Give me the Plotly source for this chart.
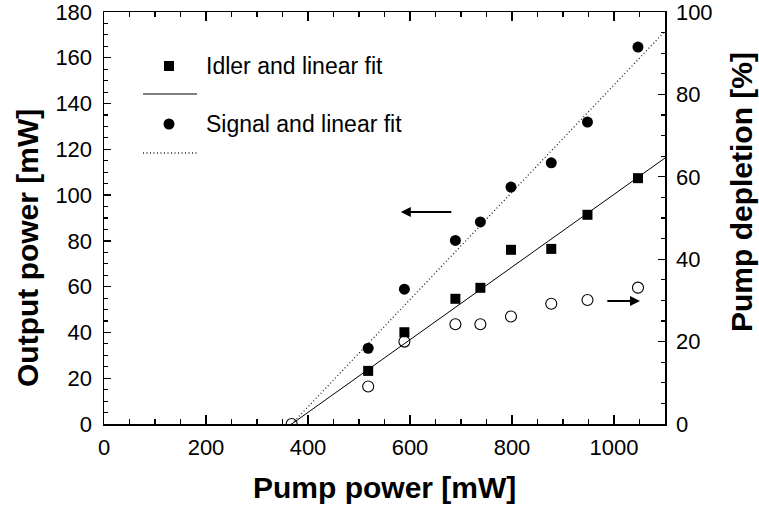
import plotly.graph_objects as go

# ---------------- data ----------------
pump = [518, 589, 689, 738, 798, 877, 948, 1047]
idler = [23.2, 40.1, 54.7, 59.5, 76.1, 76.5, 91.4, 107.4]
signal = [33.1, 58.9, 80.2, 88.3, 103.5, 114.1, 131.9, 164.7]
depl_pump = [368, 518, 589, 689, 738, 798, 877, 948, 1047]
depletion = [0, 9.1, 20.0, 24.2, 24.2, 26.1, 29.2, 30.1, 33.1]
fit_x = [368, 1100]
idler_fit = [0, 116.2]
signal_fit = [0, 171.6]

x_ticks = [0, 200, 400, 600, 800, 1000]
y_ticks = [0, 20, 40, 60, 80, 100, 120, 140, 160, 180]
y2_ticks = [0, 20, 40, 60, 80, 100]

FONT = "Liberation Sans, Arial, Helvetica, sans-serif"
W, H = 759, 510
L, R, T, B = 104, 665, 12, 424  # plot area in pixels
DOTS = "1px,2.5px"


def px(xp, yp):
    return (xp - L) / (R - L), (B - yp) / (B - T)


fig = go.Figure()
fig.add_trace(go.Scatter(x=fit_x, y=idler_fit, mode="lines",
                         line=dict(color="black", width=1), showlegend=False))
fig.add_trace(go.Scatter(x=fit_x, y=signal_fit, mode="lines",
                         line=dict(color="#222222", width=1.3, dash=DOTS), showlegend=False))
fig.add_trace(go.Scatter(x=pump, y=idler, mode="markers",
                         marker=dict(symbol="square", size=10, color="black"), showlegend=False))
fig.add_trace(go.Scatter(x=pump, y=signal, mode="markers",
                         marker=dict(symbol="circle", size=11, color="black"), showlegend=False))
fig.add_trace(go.Scatter(x=depl_pump, y=depletion, mode="markers", yaxis="y2",
                         marker=dict(symbol="circle-open", size=11, color="black",
                                     line=dict(width=1.1)), showlegend=False))

axis_common = dict(showgrid=False, zeroline=False, showline=True, linecolor="black",
                   linewidth=1.5, ticks="inside", tickcolor="black", tickwidth=1.3,
                   automargin=False, ticklabeloverflow="allow",
                   tickfont=dict(family=FONT, size=22, color="black"))

fig.update_layout(
    width=W, height=H,
    margin=dict(l=L, r=W - R, t=T, b=H - B, pad=0, autoexpand=False),
    paper_bgcolor="white", plot_bgcolor="white",
    font=dict(family=FONT, color="black"),
    xaxis=dict(range=[0, 1100], tickvals=x_ticks, ticklen=9, mirror="ticks",
               ticklabelstandoff=3,
               minor=dict(ticks="inside", dtick=50, ticklen=5, tickcolor="black", tickwidth=1.2),
               **axis_common),
    yaxis=dict(range=[0, 180], tickvals=y_ticks, ticklen=7, ticklabelstandoff=6,
               minor=dict(ticks="inside", dtick=5, ticklen=4, tickcolor="black", tickwidth=1.2),
               **axis_common),
    yaxis2=dict(range=[0, 100], tickvals=y2_ticks, ticklen=7, overlaying="y", side="right",
                ticklabelstandoff=5,
                minor=dict(ticks="inside", dtick=5, ticklen=4, tickcolor="black", tickwidth=1.2),
                **axis_common),
)

# axis titles
title_font = dict(family=FONT, size=30, color="black")
for text, (xx, yy), ang in [("Pump power [mW]", (384, 487), 0),
                            ("Output power [mW]", (27, 248), -90),
                            ("Pump depletion [%]", (741, 192), -90)]:
    xp, yp = px(xx, yy)
    fig.add_annotation(text="<b>%s</b>" % text, x=xp, y=yp, xref="paper", yref="paper",
                       showarrow=False, textangle=ang, font=title_font,
                       xanchor="center", yanchor="middle")

# legend (manual)
leg_font = dict(family=FONT, size=23, color="black")
for text, yy in [("Idler and linear fit", 66), ("Signal and linear fit", 124)]:
    xp, yp = px(204, yy)
    fig.add_annotation(text=text, x=xp, y=yp, xref="paper", yref="paper", showarrow=False,
                       xanchor="left", yanchor="middle", font=leg_font)
x0, y0 = px(164, 61); x1, y1 = px(174, 71)
fig.add_shape(type="rect", x0=x0, x1=x1, y0=y0, y1=y1, xref="paper", yref="paper",
              fillcolor="black", line=dict(width=0))
x0, y0 = px(163.5, 118.5); x1, y1 = px(174.5, 129.5)
fig.add_shape(type="circle", x0=x0, x1=x1, y0=y0, y1=y1, xref="paper", yref="paper",
              fillcolor="black", line=dict(width=0))
x0, y0 = px(143, 94); x1, _ = px(197, 94)
fig.add_shape(type="line", x0=x0, x1=x1, y0=y0, y1=y0, xref="paper", yref="paper",
              line=dict(color="black", width=1))
x0, y0 = px(143, 153); x1, _ = px(197, 153)
fig.add_shape(type="line", x0=x0, x1=x1, y0=y0, y1=y0, xref="paper", yref="paper",
              line=dict(color="#222222", width=1.3, dash=DOTS))

# arrows pointing to the relevant axes
fig.add_annotation(x=582, y=92.6, ax=684, ay=92.6, xref="x", yref="y", axref="x", ayref="y",
                   text="", showarrow=True, arrowhead=2, arrowsize=1, arrowwidth=2,
                   arrowcolor="black")
fig.add_annotation(x=1051, y=53.7, ax=984, ay=53.7, xref="x", yref="y", axref="x", ayref="y",
                   text="", showarrow=True, arrowhead=2, arrowsize=1, arrowwidth=2,
                   arrowcolor="black")

fig.write_html("out.html", config={"displayModeBar": False, "staticPlot": True},
               post_script="document.body.style.margin='0';document.body.style.overflow='hidden';")
